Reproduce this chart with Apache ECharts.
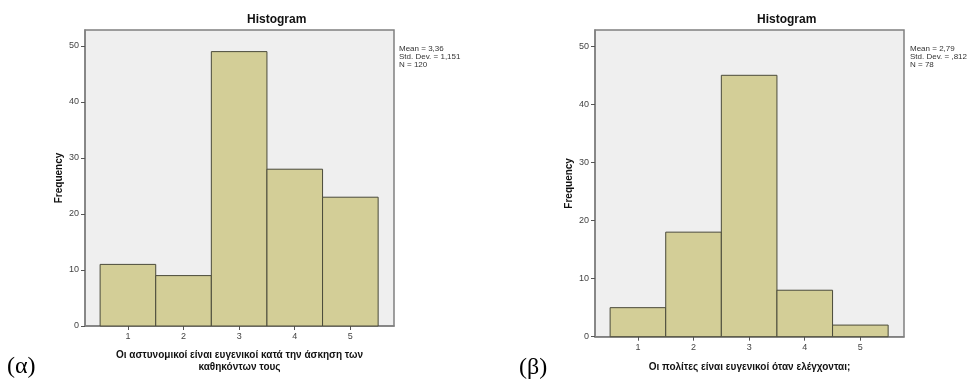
<!DOCTYPE html>
<html><head><meta charset="utf-8">
<script src="https://cdn.jsdelivr.net/npm/echarts@6/dist/echarts.min.js"></script>
<style>html,body{margin:0;padding:0;background:#fff}#c{width:967px;height:385px}</style>
</head><body><div id="c"></div>
<script>
const bins = [1, 2, 3, 4, 5];
const freqA = [11, 9, 49, 28, 23];
const freqB = [5, 18, 45, 8, 2];
const yTicks = [0, 10, 20, 30, 40, 50];
const titleText = 'Histogram';
const yName = 'Frequency';
const xNameA = 'Οι αστυνομικοί είναι ευγενικοί κατά την άσκηση των\nκαθηκόντων τους';
const xNameB = 'Οι πολίτες είναι ευγενικοί όταν ελέγχονται;';
const statsA = ['Mean = 3,36', 'Std. Dev. = 1,151', 'N = 120'];
const statsB = ['Mean = 2,79', 'Std. Dev. = ,812', 'N = 78'];
const panelLabels = ['(α)', '(β)'];

const chart = echarts.init(document.getElementById('c'));
const F = 'Arial, "Liberation Sans", sans-serif';

function xAxis(gi, name, gap) {
  return {
    type: 'value', gridIndex: gi, min: 0.228, max: 5.785,
    splitLine: {show: false},
    axisLine: {show: true, lineStyle: {color: '#808080', width: 1.5}},
    axisTick: {show: true, length: 4, customValues: bins, lineStyle: {color: '#555'}},
    axisLabel: {customValues: bins, fontSize: 9, color: '#444', fontFamily: F, margin: 6},
    name: name, nameLocation: 'middle', nameGap: gap,
    nameTextStyle: {fontSize: 10, fontWeight: 'bold', color: '#111', fontFamily: F, lineHeight: 12}
  };
}
function yAxis(gi, max) {
  return {
    type: 'value', gridIndex: gi, min: 0, max: max, interval: 10,
    splitLine: {show: false},
    axisLine: {show: true, lineStyle: {color: '#808080', width: 1.5}},
    axisTick: {show: true, length: 4, lineStyle: {color: '#555'}},
    axisLabel: {fontSize: 9, color: '#444', fontFamily: F, margin: 6, showMaxLabel: false,
      formatter: v => (yTicks.indexOf(v) >= 0 ? String(v) : '')},
    name: yName, nameLocation: 'middle', nameGap: 21, nameRotate: 90,
    nameTextStyle: {fontSize: 10, fontWeight: 'bold', color: '#111', fontFamily: F}
  };
}
function histSeries(idx, data) {
  return {
    type: 'custom', xAxisIndex: idx, yAxisIndex: idx,
    data: bins.map((b, i) => [b, data[i]]),
    renderItem: function (params, api) {
      const x = api.value(0), y = api.value(1);
      const p1 = api.coord([x - 0.5, y]);
      const p2 = api.coord([x + 0.5, 0]);
      return {type: 'rect', shape: {x: p1[0], y: p1[1], width: p2[0] - p1[0], height: p2[1] - p1[1]},
        style: {fill: '#D3CE97', stroke: '#4a4a3a', lineWidth: 1}};
    }
  };
}
function statsText(x, lines) {
  return {type: 'text', left: x, top: 45, style: {text: lines.join('\n'), fontSize: 8, lineHeight: 8,
    fill: '#333', fontFamily: F}};
}

chart.setOption({
  animation: false,
  grid: [
    {left: 85, top: 30, width: 309, height: 296, show: true, backgroundColor: '#EFEFEF', borderColor: '#808080', borderWidth: 1.5},
    {left: 595, top: 30, width: 309, height: 306.7, show: true, backgroundColor: '#EFEFEF', borderColor: '#808080', borderWidth: 1.5}
  ],
  xAxis: [xAxis(0, xNameA, 23), xAxis(1, xNameB, 25)],
  yAxis: [yAxis(0, 52.86), yAxis(1, 52.8)],
  series: [histSeries(0, freqA), histSeries(1, freqB)],
  graphic: [
    {type: 'text', left: 247, top: 14, style: {text: titleText, fontSize: 12, fontWeight: 'bold', fill: '#111', fontFamily: F}},
    {type: 'text', left: 757, top: 14, style: {text: titleText, fontSize: 12, fontWeight: 'bold', fill: '#111', fontFamily: F}},
    statsText(399, statsA),
    statsText(910, statsB),
    {type: 'text', left: 7, top: 355, style: {text: panelLabels[0], fontSize: 24, fill: '#000', fontFamily: '"Liberation Serif", "DejaVu Serif", serif'}},
    {type: 'text', left: 519, top: 356, style: {text: panelLabels[1], fontSize: 24, fill: '#000', fontFamily: '"Liberation Serif", "DejaVu Serif", serif'}}
  ]
});
</script></body></html>
